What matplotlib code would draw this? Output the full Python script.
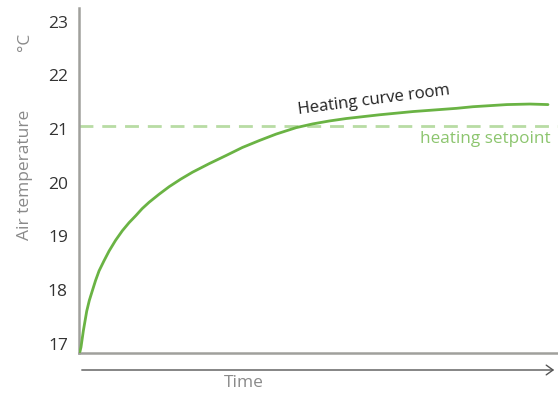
import matplotlib
matplotlib.use("Agg")
import matplotlib.pyplot as plt
import matplotlib.transforms as mtransforms
import matplotlib.patches as mpatches

# Data (time in arbitrary units, temperature in °C)
time = [0, 1, 2, 4.3, 7.7, 10.3, 13.3, 16.5, 20, 25, 30, 36.5, 43.3, 50, 56.7, 63, 70, 80, 90, 101.5, 113.3,
        130, 146.7, 163, 180, 196.7, 216.7, 233.3, 250, 266.7, 300, 333.3, 376.7, 393, 427, 450, 468]
temp = [16.77, 16.80, 16.88, 17.18, 17.55, 17.75, 17.93, 18.12, 18.30, 18.49, 18.67, 18.87, 19.05, 19.20, 19.33, 19.46, 19.58, 19.73, 19.87, 20.01, 20.14,
        20.30, 20.45, 20.60, 20.73, 20.85, 20.97, 21.04, 21.095, 21.14, 21.21, 21.27, 21.33, 21.36, 21.40, 21.41, 21.40]
setpoint = 21.0
yticks = [17, 18, 19, 20, 21, 22, 23]

plt.rcParams['font.family'] = ['Open Sans', 'DejaVu Sans']
fig = plt.figure(figsize=(5.58, 3.94), dpi=100)
ax = fig.add_axes([79/558, 1-353/394, 1-79/558, (353-8)/394])

ax.plot(time, temp, color='#6ab344', lw=2.0, solid_capstyle='round', solid_joinstyle='round', zorder=3)
ax.axhline(setpoint, color='#b8dca4', lw=2.0, dashes=(5, 3.2), zorder=2)

ax.set_xlim(0, 478)
ax.set_ylim(16.77, 23.2)
ax.set_yticks(yticks)
ax.set_yticklabels([str(v) for v in yticks], fontsize=12.5, color='#333333')
ax.tick_params(axis='y', length=0, pad=8)
ax.set_xticks([])
for s in ['top', 'right']:
    ax.spines[s].set_visible(False)
for s in ['left', 'bottom']:
    ax.spines[s].set_color('#a0a09c')
    ax.spines[s].set_linewidth(1.8)

# shift tick labels slightly down
offset = mtransforms.ScaledTranslation(0, -3/100, fig.dpi_scale_trans)
for lbl in ax.get_yticklabels():
    lbl.set_transform(lbl.get_transform() + offset)

# Axis labels
fig.text(25/558, 1-175/394, 'Air temperature', rotation=90, ha='center', va='center',
         fontsize=12.5, color='#8a8a8a')
fig.text(25/558, 1-42/394, '°C', rotation=90, ha='center', va='center',
         fontsize=12.5, color='#8a8a8a')

# Time arrow
fig.add_artist(mpatches.FancyArrowPatch((79/558, 1-370/394), (557/558, 1-370/394),
               transform=fig.transFigure, arrowstyle='->,head_length=0.35,head_width=0.25',
               color='#555555', lw=1.0, mutation_scale=14))
fig.text(244/558, 1-383/394, 'Time', ha='center', va='center', fontsize=12.5,
         color='#8a8a8a')

# Annotations
ax.text(373-79, 21 + (125.5-100)/53.5, 'Heating curve room', rotation=7.4, ha='center', va='center',
        fontsize=12, color='#222222', rotation_mode='anchor')
ax.text(550-79, 21 + (125.5-138)/53.5, 'heating setpoint', ha='right', va='center',
        fontsize=12.3, color='#8cc56e')

fig.savefig('out.png', dpi=100)
